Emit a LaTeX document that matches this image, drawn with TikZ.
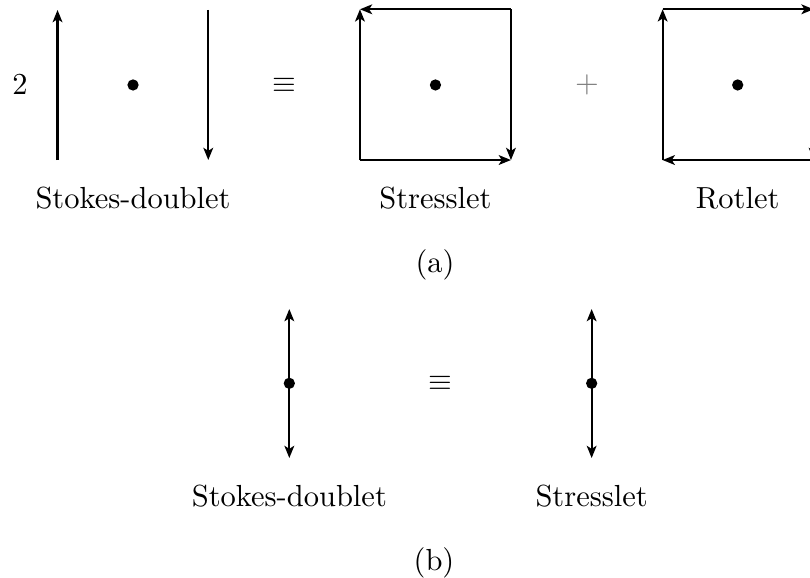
\documentclass[tikz,border=0pt]{standalone}
\usepackage{amsmath, amssymb}
\usetikzlibrary{arrows.meta, positioning, calc}

\tikzset{
  flow/.style={-{Stealth[length=4pt, width=3.2pt, inset=1pt]}, line width=0.7pt},
  flowboth/.style={{Stealth[length=4pt, width=3.2pt, inset=1pt]}-{Stealth[length=4pt, width=3.2pt, inset=1pt]}, line width=0.7pt},
  pointforce/.style={circle, fill=black, inner sep=0pt, minimum size=3.7pt},
  caption/.style={font=\normalsize}
}

\begin{document}
\begin{tikzpicture}
    \useasboundingbox (0,0) rectangle (9.334,-6.649);
    % (a) top row
    \node (two) at (0.230,-0.979) {$2$};
    \node[pointforce] (sd) at (1.533,-0.979) {};
    \coordinate (sd-lb) at (0.663,-1.844);
    \coordinate (sd-lt) at (0.663,-0.115);
    \coordinate (sd-rt) at (2.400,-0.115);
    \coordinate (sd-rb) at (2.400,-1.844);
    \draw[flow] (sd-lb) -- (sd-lt);
    \draw[flow] (sd-rt) -- (sd-rb);
    \node (eqa) at (3.273,-0.979) {$\equiv$};

    \node[pointforce] (ss) at (5.018,-0.979) {};
    \coordinate (ss-sw) at (4.148,-1.844);
    \coordinate (ss-nw) at (4.148,-0.107);
    \coordinate (ss-ne) at (5.888,-0.107);
    \coordinate (ss-se) at (5.888,-1.844);
    \draw[flow] (ss-sw) -- (ss-nw);
    \draw[flow] (ss-ne) -- (ss-nw);
    \draw[flow] (ss-ne) -- (ss-se);
    \draw[flow] (ss-sw) -- (ss-se);
    \node[text=black!50] (plus) at (6.764,-0.979) {$+$};

    \node[pointforce] (rl) at (8.501,-0.979) {};
    \coordinate (rl-sw) at (7.636,-1.844);
    \coordinate (rl-nw) at (7.636,-0.107);
    \coordinate (rl-ne) at (9.376,-0.107);
    \coordinate (rl-se) at (9.376,-1.844);
    \draw[flow] (rl-sw) -- (rl-nw);
    \draw[flow] (rl-nw) -- (rl-ne);
    \draw[flow] (rl-ne) -- (rl-se);
    \draw[flow] (rl-se) -- (rl-sw);

    \node (sd-lab) at (1.533,-2.282) {Stokes-doublet};
    \node (ss-lab) at (5.018,-2.282) {Stresslet};
    \node (rl-lab) at (8.501,-2.282) {Rotlet};
    \node[caption] (capa) at (5.013,-3.054) {(a)};

    % (b) bottom row
    \coordinate (bsd-t) at (3.334,-3.561);
    \coordinate (bsd-b) at (3.334,-5.278);
    \draw[flowboth] (bsd-t) -- (bsd-b);
    \node[pointforce] (bsd) at (3.334,-4.417) {};
    \node (eqb) at (5.078,-4.417) {$\equiv$};
    \coordinate (bss-t) at (6.818,-3.561);
    \coordinate (bss-b) at (6.818,-5.278);
    \draw[flowboth] (bss-t) -- (bss-b);
    \node[pointforce] (bss) at (6.818,-4.417) {};

    \node (bsd-lab) at (3.334,-5.716) {Stokes-doublet};
    \node (bss-lab) at (6.818,-5.716) {Stresslet};
    \node[caption] (capb) at (5.001,-6.488) {(b)};
\end{tikzpicture}
\end{document}
